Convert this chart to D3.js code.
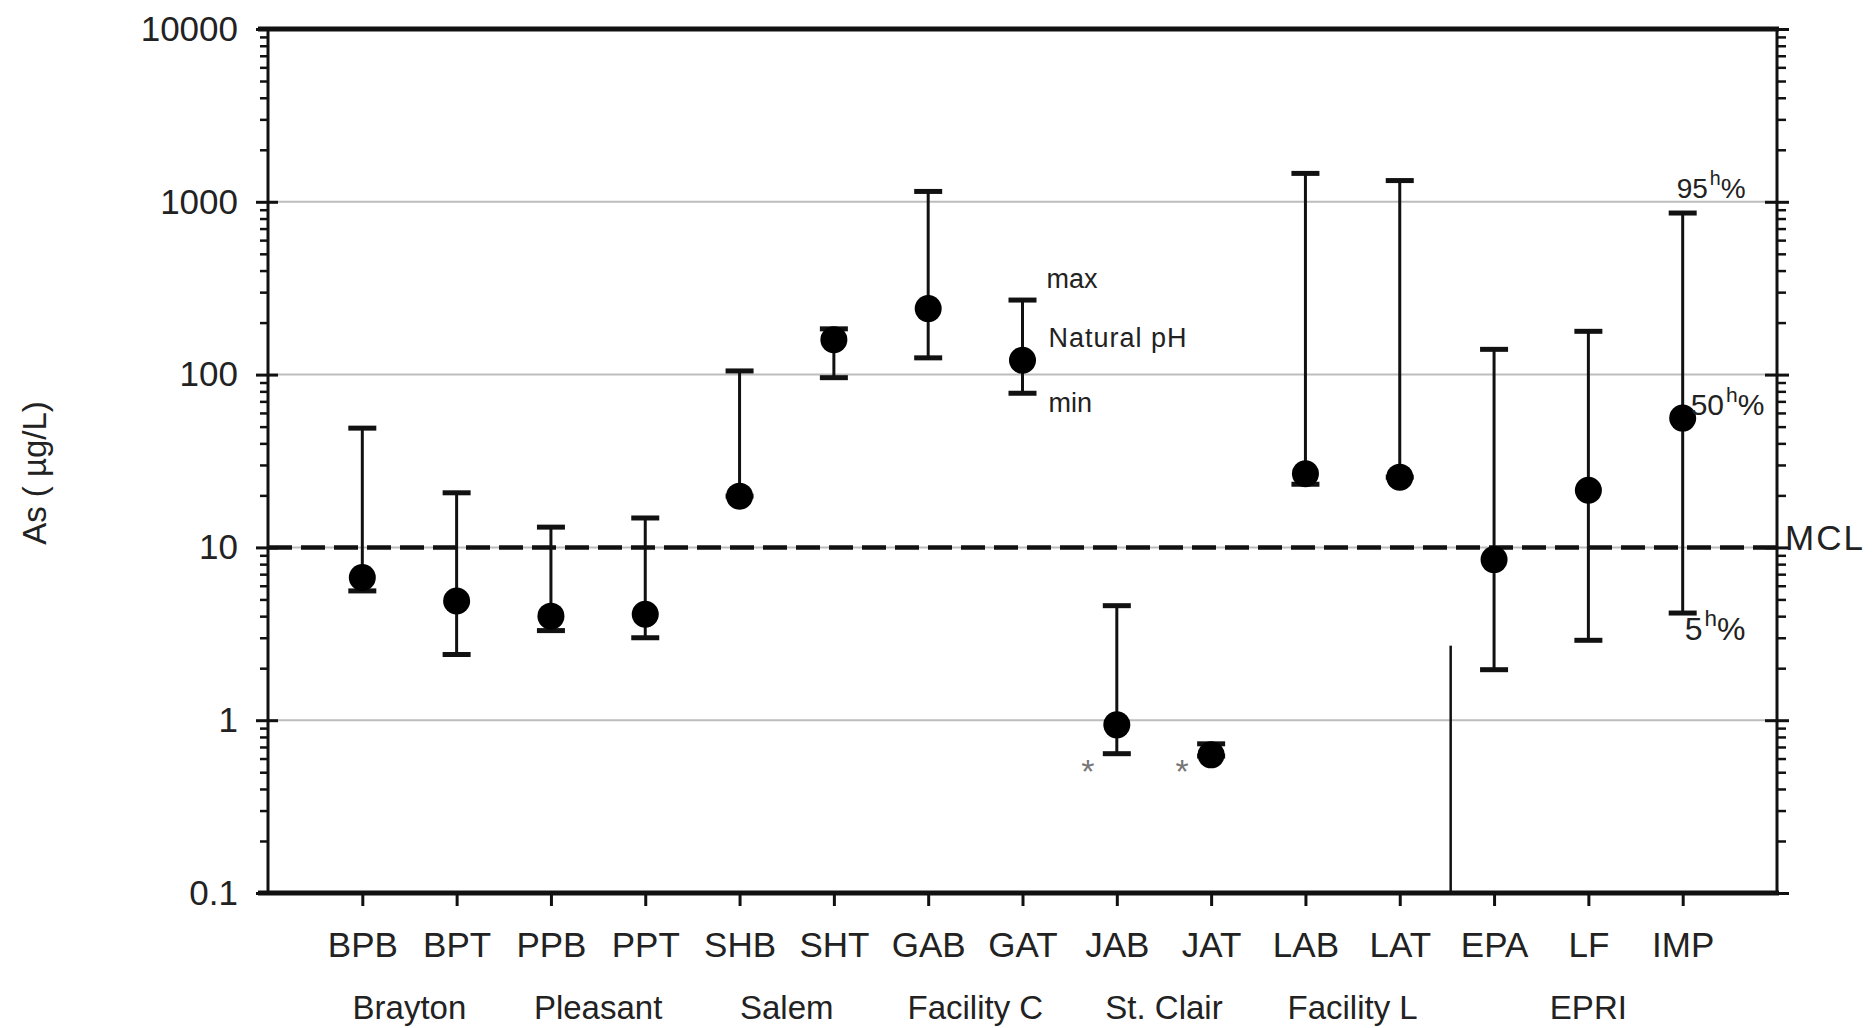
<!DOCTYPE html>
<html>
<head>
<meta charset="utf-8">
<script src="https://cdn.jsdelivr.net/npm/d3@7"></script>
<style>
  html, body { margin: 0; padding: 0; background: #fff; }
  svg { display: block; }
  text { font-family: "Liberation Sans", Arial, sans-serif; fill: #222; }
</style>
</head>
<body>
<svg id="chart" width="1875" height="1028"></svg>
<script>
// Arsenic concentrations by site: max, natural-pH value, min
const categories = ["BPB", "BPT", "PPB", "PPT", "SHB", "SHT", "GAB", "GAT", "JAB", "JAT", "LAB", "LAT", "EPA", "LF", "IMP"];
const maxValues   = [49, 20.7, 13.1, 14.8, 105, 184, 1148, 270, 4.6, 0.73, 1460, 1327, 140, 178, 861];
const pointValues = [6.7, 4.9, 4.0, 4.1, 19.8, 159, 241, 121, 0.94, 0.63, 26.7, 25.5, 8.5, 21.4, 56];
const minValues   = [5.6, 2.4, 3.3, 3.0, 19.8, 96, 125, 78, 0.64, 0.62, 23.2, 25.5, 1.96, 2.9, 4.17];

const groupLabels = ["Brayton", "Pleasant", "Salem", "Facility C", "St. Clair", "Facility L", "EPRI"];
const groupMembers = [["BPB", "BPT"], ["PPB", "PPT"], ["SHB", "SHT"], ["GAB", "GAT"], ["JAB", "JAT"], ["LAB", "LAT"], ["EPA", "LF", "IMP"]];

const yTickValues = [0.1, 1, 10, 100, 1000, 10000];
const yTickLabels = ["0.1", "1", "10", "100", "1000", "10000"];

const mclValue = 10;
const asteriskSites = ["JAB", "JAT"];
const asteriskValue = 0.54;
const dividerTopValue = 2.7;   // vertical divider between LAT and EPA

const svg = d3.select("#chart");
const plotLeft = 268, plotRight = 1777, plotTop = 29, plotBottom = 893;

const x = d3.scalePoint().domain(categories).range([plotLeft, plotRight]).padding(1);
const y = d3.scaleLog().domain([0.1, 10000]).range([plotBottom, plotTop]);

// minor tick values (2..9 within each decade)
const minor = [];
for (let e = -1; e < 4; e++) {
  for (let k = 2; k <= 9; k++) minor.push(k * Math.pow(10, e));
}

// gridlines
svg.append("g").selectAll("line").data(yTickValues.slice(1, -1)).join("line")
  .attr("x1", plotLeft).attr("x2", plotRight)
  .attr("y1", d => y(d)).attr("y2", d => y(d))
  .attr("stroke", "#bdbdbd").attr("stroke-width", 2);

// left axis
const leftAxis = svg.append("g").attr("transform", `translate(${plotLeft},0)`);
leftAxis.append("g").call(d3.axisLeft(y).tickValues(minor).tickSize(8).tickFormat(""))
  .call(g => g.select(".domain").remove())
  .call(g => g.selectAll("line").attr("stroke", "#111").attr("stroke-width", 2.5));
leftAxis.append("g").call(d3.axisLeft(y).tickValues(yTickValues).tickSize(12).tickPadding(18)
    .tickFormat((d, i) => yTickLabels[i]))
  .call(g => g.select(".domain").remove())
  .call(g => g.selectAll("line").attr("stroke", "#111").attr("stroke-width", 3).attr("x2", -12).attr("x1", 10))
  .call(g => g.selectAll("text").attr("font-size", 35).attr("fill", "#2a2a2a")
    .attr("font-family", "Liberation Sans, Arial, sans-serif"));
leftAxis.append("line").attr("y1", plotTop).attr("y2", plotBottom).attr("stroke", "#111").attr("stroke-width", 3);

// right axis
const rightAxis = svg.append("g").attr("transform", `translate(${plotRight},0)`);
rightAxis.append("g").call(d3.axisRight(y).tickValues(minor).tickSize(9).tickFormat(""))
  .call(g => g.select(".domain").remove())
  .call(g => g.selectAll("line").attr("stroke", "#111").attr("stroke-width", 2.5));
rightAxis.append("g").call(d3.axisRight(y).tickValues(yTickValues).tickSize(12).tickFormat(""))
  .call(g => g.select(".domain").remove())
  .call(g => g.selectAll("line").attr("stroke", "#111").attr("stroke-width", 3).attr("x1", -12));
rightAxis.append("line").attr("y1", plotTop).attr("y2", plotBottom).attr("stroke", "#111").attr("stroke-width", 3);

// top border
svg.append("line").attr("x1", plotLeft - 10).attr("x2", plotRight + 2)
  .attr("y1", plotTop).attr("y2", plotTop).attr("stroke", "#111").attr("stroke-width", 5);

// bottom axis with category ticks
const bottomAxis = svg.append("g").attr("transform", `translate(0,${plotBottom})`);
bottomAxis.call(d3.axisBottom(x).tickSize(13).tickPadding(26))
  .call(g => g.select(".domain").remove())
  .call(g => g.selectAll("line").attr("stroke", "#111").attr("stroke-width", 3))
  .call(g => g.selectAll("text").attr("font-size", 35).attr("fill", "#2a2a2a")
    .attr("font-family", "Liberation Sans, Arial, sans-serif"));
svg.append("line").attr("x1", plotLeft - 10).attr("x2", plotRight + 2)
  .attr("y1", plotBottom).attr("y2", plotBottom).attr("stroke", "#111").attr("stroke-width", 5);

// group labels under the site codes
svg.append("g").selectAll("text").data(groupLabels).join("text")
  .attr("x", (d, i) => d3.mean(groupMembers[i], c => x(c)))
  .attr("y", 1019)
  .attr("text-anchor", "middle")
  .attr("font-size", 33)
  .text(d => d);

// y-axis title
svg.append("text")
  .attr("transform", `translate(46,473) rotate(-90)`)
  .attr("text-anchor", "middle")
  .attr("font-size", 33)
  .text("As ( µg/L)");

// MCL line
svg.append("line")
  .attr("x1", plotLeft).attr("x2", plotRight)
  .attr("y1", y(mclValue)).attr("y2", y(mclValue))
  .attr("stroke", "#111").attr("stroke-width", 4.5)
  .attr("stroke-dasharray", "24 9");
svg.append("text")
  .attr("x", plotRight + 8).attr("y", y(mclValue) + 3)
  .attr("font-size", 35).attr("letter-spacing", 2)
  .text("MCL");

// vertical divider
svg.append("line")
  .attr("x1", x("LAT") + x.step() * 0.54).attr("x2", x("LAT") + x.step() * 0.54)
  .attr("y1", y(dividerTopValue)).attr("y2", plotBottom)
  .attr("stroke", "#111").attr("stroke-width", 2.5);

// range bars
const rows = categories.map((c, i) => ({ c, max: maxValues[i], pt: pointValues[i], min: minValues[i] }));
const bars = svg.append("g").selectAll("g").data(rows).join("g");
bars.append("line")
  .attr("x1", d => x(d.c)).attr("x2", d => x(d.c))
  .attr("y1", d => y(d.max)).attr("y2", d => y(d.min))
  .attr("stroke", "#111").attr("stroke-width", 3);
bars.append("line")
  .attr("x1", d => x(d.c) - 14).attr("x2", d => x(d.c) + 14)
  .attr("y1", d => y(d.max)).attr("y2", d => y(d.max))
  .attr("stroke", "#111").attr("stroke-width", 5);
bars.append("line")
  .attr("x1", d => x(d.c) - 14).attr("x2", d => x(d.c) + 14)
  .attr("y1", d => y(d.min)).attr("y2", d => y(d.min))
  .attr("stroke", "#111").attr("stroke-width", 5);
bars.append("circle")
  .attr("cx", d => x(d.c)).attr("cy", d => y(d.pt))
  .attr("r", 13.5).attr("fill", "#000");

// asterisks beside sites with values below detection
svg.append("g").selectAll("text").data(asteriskSites).join("text")
  .attr("x", d => x(d) - 29).attr("y", y(asteriskValue) + 17)
  .attr("text-anchor", "middle")
  .attr("font-size", 34)
  .style("fill", "#777")
  .text("*");

// legend-like labels beside GAT
const gat = rows[categories.indexOf("GAT")];
const lx = x("GAT") + 26;
svg.append("text").attr("x", lx - 2).attr("y", y(gat.max) - 12).attr("font-size", 27).text("max");
svg.append("text").attr("x", lx).attr("y", y(gat.pt) - 13).attr("font-size", 27).attr("letter-spacing", 1).text("Natural pH");
svg.append("text").attr("x", lx).attr("y", y(gat.min) + 19).attr("font-size", 27).text("min");

// percentile labels beside IMP
const imp = rows[categories.indexOf("IMP")];
function pctLabel(px, py, num, size) {
  const t = svg.append("text").attr("x", px).attr("y", py).attr("font-size", size);
  t.append("tspan").text(num);
  t.append("tspan").attr("font-size", size * 0.7).attr("dy", -size * 0.45).attr("dx", 2).text("h");
  t.append("tspan").attr("dy", size * 0.45).text("%");
}
pctLabel(x("IMP") - 6, y(imp.max) - 15, "95", 28);
pctLabel(x("IMP") + 8, y(imp.pt) - 3, "50", 30);
pctLabel(x("IMP") + 2, y(imp.min) + 27, "5", 32);
</script>
</body>
</html>
